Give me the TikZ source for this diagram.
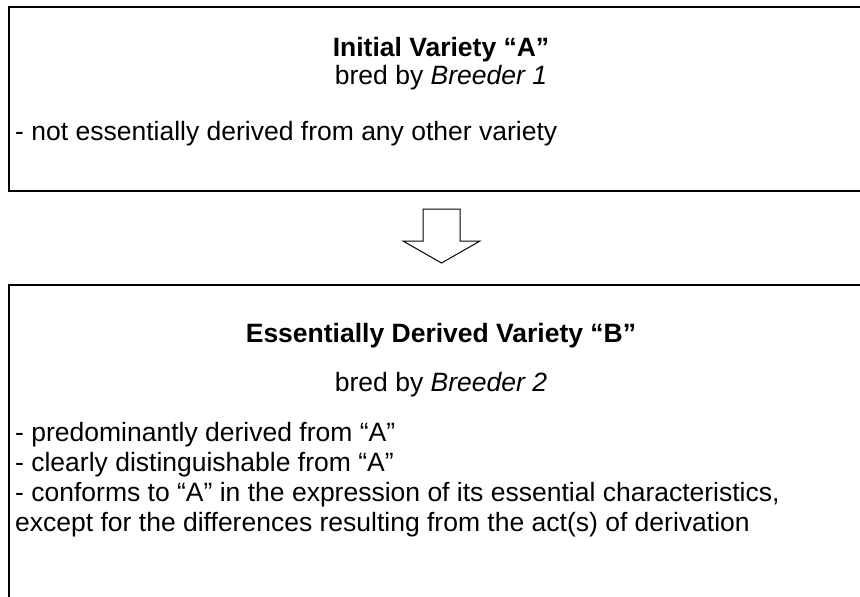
\documentclass[tikz,border=0pt]{standalone}
\usepackage{fontspec}
\setmainfont{Liberation Sans}
\begin{document}
\begin{tikzpicture}[x=1pt,y=-1pt,
  boxline/.style={draw=black,line width=2.2pt},
  txt/.style={inner sep=0pt,font=\fontsize{26.5}{30}\selectfont},
  ctxt/.style={txt,anchor=base},
  ltxt/.style={txt,anchor=base west},
  blockarrow/.style={draw=black,line width=1pt,fill=white,line join=miter}]
\useasboundingbox (0,0) rectangle (860,597);
\clip (0,0) rectangle (860,597);
% boxes
\coordinate (a1) at (9,7);
\coordinate (a2) at (880,191);
\coordinate (b1) at (9,285);
\coordinate (b2) at (880,620);
\draw[boxline] (a1) rectangle (a2);
\draw[boxline] (b1) rectangle (b2);
% box A text
\node[ctxt] (tA) at (441,56) {\textbf{Initial Variety “A”}};
\node[ctxt] (bA) at (441,84) {bred by \textit{Breeder 1}};
\node[ltxt] (lA) at (15,140) {- not essentially derived from any other variety};
% box B text
\node[ctxt] (tB) at (441,342) {\textbf{Essentially Derived Variety “B”}};
\node[ctxt] (bB) at (441,391) {bred by \textit{Breeder 2}};
\node[ltxt] (l1) at (15,441) {- predominantly derived from “A”};
\node[ltxt] (l2) at (15,471) {- clearly distinguishable from “A”};
\node[ltxt] (l3) at (15,501) {- conforms to “A” in the expression of its essential characteristics,};
\node[ltxt] (l4) at (15,531) {except for the differences resulting from the act(s) of derivation};
% block arrow
\draw[blockarrow] (423,209) -- (460,209) -- (460,241) -- (480,241) -- (441.5,263) -- (403,241) -- (423,241) -- cycle;
\end{tikzpicture}
\end{document}
